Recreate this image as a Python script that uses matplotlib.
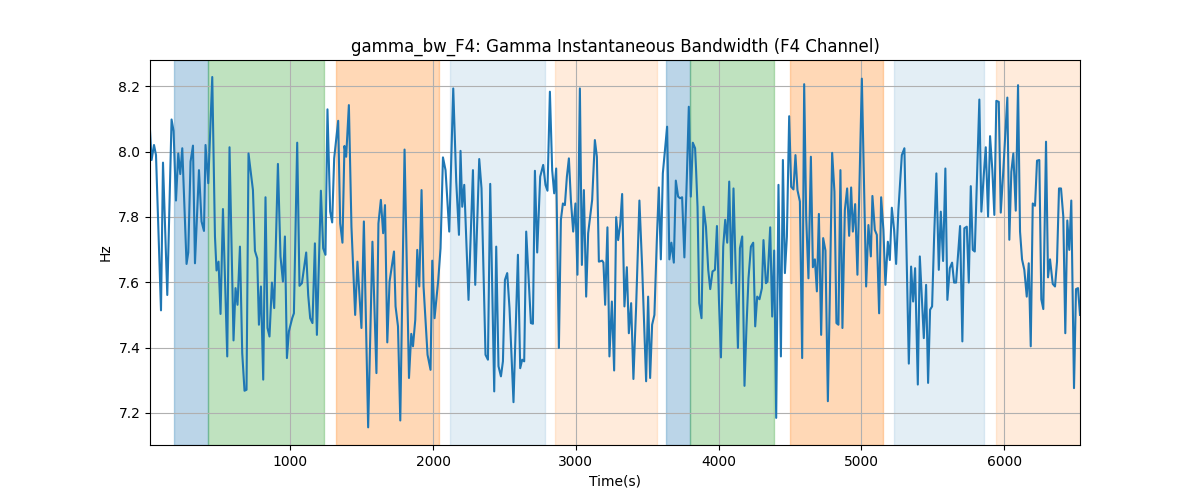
import numpy as np
import matplotlib
matplotlib.use('Agg')
import matplotlib.pyplot as plt

# time stamps (s) and gamma bandwidth (Hz)
time_s = [17, 28, 45, 59, 94, 108, 138, 168, 182, 199, 215, 229, 243, 273, 285, 301, 318, 332, 360, 378,
          395, 406, 425, 453, 472, 483, 497, 511, 528, 558, 574, 602, 616, 630, 647, 663, 679, 693, 707, 738,
          752, 768, 780, 794, 810, 826, 840, 854, 871, 887, 913, 931, 948, 962, 976, 990, 1013, 1025, 1048, 1064,
          1081, 1111, 1125, 1139, 1155, 1172, 1186, 1214, 1230, 1246, 1260, 1279, 1293, 1307, 1335, 1349, 1365, 1379, 1391, 1410,
          1428, 1454, 1470, 1484, 1498, 1515, 1545, 1575, 1603, 1617, 1634, 1650, 1663, 1679, 1695, 1726, 1737, 1754, 1770, 1800,
          1831, 1847, 1859, 1875, 1889, 1903, 1919, 1933, 1961, 1982, 1994, 2010, 2036, 2052, 2069, 2087, 2113, 2141, 2162, 2181,
          2192, 2204, 2218, 2248, 2279, 2295, 2323, 2339, 2367, 2384, 2400, 2428, 2442, 2458, 2475, 2489, 2503, 2519, 2535, 2563,
          2594, 2610, 2624, 2638, 2652, 2668, 2685, 2699, 2713, 2729, 2750, 2759, 2771, 2787, 2801, 2818, 2834, 2848, 2862, 2881,
          2895, 2909, 2923, 2937, 2951, 2965, 2981, 2997, 3011, 3028, 3042, 3056, 3072, 3086, 3114, 3133, 3147, 3161, 3184, 3193,
          3205, 3221, 3235, 3252, 3268, 3282, 3296, 3310, 3324, 3340, 3357, 3371, 3387, 3403, 3422, 3445, 3464, 3483, 3492, 3506,
          3520, 3534, 3550, 3567, 3581, 3595, 3609, 3639, 3655, 3669, 3686, 3700, 3716, 3730, 3744, 3760, 3777, 3791, 3805, 3819,
          3835, 3842, 3852, 3864, 3880, 3894, 3911, 3927, 3941, 3957, 3974, 3988, 4002, 4016, 4032, 4046, 4060, 4074, 4090, 4104,
          4118, 4135, 4149, 4165, 4181, 4195, 4209, 4226, 4242, 4256, 4270, 4286, 4303, 4314, 4331, 4342, 4361, 4375, 4389, 4403,
          4419, 4436, 4450, 4464, 4478, 4494, 4508, 4524, 4538, 4552, 4569, 4585, 4599, 4613, 4629, 4646, 4660, 4674, 4688, 4702,
          4718, 4732, 4748, 4765, 4779, 4795, 4811, 4825, 4839, 4853, 4867, 4884, 4900, 4914, 4928, 4940, 4956, 4972, 5003, 5033,
          5049, 5066, 5077, 5094, 5108, 5124, 5138, 5154, 5168, 5185, 5199, 5213, 5229, 5243, 5259, 5283, 5301, 5332, 5348, 5362,
          5376, 5395, 5409, 5437, 5453, 5467, 5481, 5495, 5509, 5525, 5542, 5556, 5572, 5588, 5602, 5619, 5635, 5649, 5663, 5691,
          5707, 5721, 5738, 5752, 5766, 5780, 5794, 5826, 5840, 5857, 5871, 5887, 5901, 5917, 5931, 5945, 5962, 5976, 5992, 6022,
          6036, 6050, 6064, 6081, 6097, 6111, 6125, 6141, 6158, 6172, 6186, 6200, 6216, 6230, 6246, 6260, 6274, 6293, 6307, 6321,
          6340, 6356, 6370, 6384, 6398, 6414, 6428, 6442, 6456, 6470, 6489, 6503, 6517, 6531]

bandwidth_hz = [8.065, 7.974, 8.020, 7.989, 7.514, 7.966, 7.561, 8.098, 8.063, 7.850, 7.994, 7.931, 8.010, 7.656, 7.691, 7.969, 8.018, 7.658, 7.943, 7.786,
                7.757, 8.020, 7.903, 8.228, 7.740, 7.636, 7.663, 7.503, 7.824, 7.373, 8.013, 7.422, 7.582, 7.531, 7.709, 7.383, 7.268, 7.271, 7.994, 7.882,
                7.696, 7.673, 7.470, 7.587, 7.302, 7.860, 7.460, 7.434, 7.599, 7.521, 7.962, 7.679, 7.602, 7.740, 7.368, 7.450, 7.490, 7.505, 8.027, 7.589,
                7.597, 7.691, 7.561, 7.490, 7.475, 7.719, 7.439, 7.880, 7.704, 7.684, 8.129, 7.816, 7.783, 7.979, 8.094, 7.780, 7.721, 8.017, 7.984, 8.142,
                7.770, 7.500, 7.663, 7.561, 7.460, 7.786, 7.156, 7.724, 7.322, 7.780, 7.852, 7.750, 7.836, 7.416, 7.602, 7.694, 7.526, 7.465, 7.177, 8.006,
                7.307, 7.442, 7.404, 7.485, 7.699, 7.587, 7.882, 7.587, 7.378, 7.332, 7.666, 7.490, 7.607, 7.704, 7.982, 7.943, 7.755, 8.193, 7.908, 7.745,
                8.002, 7.831, 7.898, 7.546, 7.943, 7.592, 7.977, 7.887, 7.378, 7.363, 7.901, 7.266, 7.709, 7.343, 7.312, 7.358, 7.607, 7.628, 7.521, 7.233,
                7.684, 7.337, 7.363, 7.358, 7.755, 7.617, 7.475, 7.473, 7.941, 7.691, 7.923, 7.938, 7.959, 7.898, 7.880, 8.183, 7.943, 7.872, 7.948, 7.399,
                7.791, 7.841, 7.836, 7.923, 7.979, 7.852, 7.755, 7.841, 7.623, 8.193, 7.653, 7.882, 7.556, 7.750, 7.852, 8.035, 7.984, 7.663, 7.666, 7.660,
                7.531, 7.768, 7.373, 7.541, 7.330, 7.799, 7.729, 7.775, 7.870, 7.526, 7.646, 7.444, 7.536, 7.304, 7.526, 7.850, 7.648, 7.409, 7.297, 7.556,
                7.307, 7.470, 7.500, 7.729, 7.890, 7.670, 7.933, 8.076, 7.670, 7.721, 7.660, 7.911, 7.862, 7.857, 7.860, 7.676, 7.918, 8.137, 7.862, 8.027,
                8.010, 7.943, 7.831, 7.536, 7.490, 7.831, 7.770, 7.638, 7.579, 7.633, 7.638, 7.772, 7.546, 7.370, 7.709, 7.791, 7.721, 7.908, 7.597, 7.887,
                7.658, 7.399, 7.704, 7.740, 7.283, 7.465, 7.612, 7.709, 7.721, 7.465, 7.556, 7.548, 7.582, 7.729, 7.597, 7.602, 7.768, 7.495, 7.697, 7.185,
                7.898, 7.373, 7.974, 7.628, 7.740, 8.108, 7.892, 7.884, 7.989, 7.882, 7.847, 7.368, 8.206, 7.801, 7.612, 7.984, 7.646, 7.670, 7.572, 7.809,
                7.439, 7.735, 7.697, 7.236, 7.566, 7.996, 7.877, 7.475, 7.470, 7.943, 7.460, 7.821, 7.887, 7.742, 7.890, 7.755, 7.839, 7.623, 8.223, 7.587,
                7.775, 7.679, 7.864, 7.760, 7.745, 7.505, 7.860, 7.760, 7.592, 7.724, 7.668, 7.828, 7.760, 7.656, 7.821, 7.989, 8.010, 7.351, 7.648, 7.541,
                7.643, 7.287, 7.679, 7.429, 7.592, 7.292, 7.516, 7.526, 7.735, 7.933, 7.638, 7.816, 7.665, 7.948, 7.546, 7.643, 7.660, 7.599, 7.599, 7.772,
                7.419, 7.765, 7.770, 7.599, 7.894, 7.699, 7.694, 8.159, 7.816, 7.928, 8.013, 7.801, 8.047, 7.943, 7.806, 8.155, 8.152, 7.813, 7.928, 8.165,
                7.730, 7.938, 7.994, 7.819, 8.203, 7.755, 7.670, 7.638, 7.556, 7.658, 7.404, 7.841, 7.834, 7.972, 7.974, 7.548, 7.518, 8.030, 7.615, 7.670,
                7.595, 7.587, 7.663, 7.887, 7.887, 7.801, 7.444, 7.789, 7.699, 7.850, 7.276, 7.579, 7.582, 7.500]

# shaded segments: start, end, colour, alpha
seg_start = [187, 420, 1321, 2120, 2855, 3633, 3796, 4501, 5229, 5943]
seg_end = [420, 1237, 2043, 2783, 3567, 3796, 4386, 5150, 5857, 6540]
seg_color = ['tab:blue', 'tab:green', 'tab:orange', 'tab:blue', 'tab:orange',
             'tab:blue', 'tab:green', 'tab:orange', 'tab:blue', 'tab:orange']
seg_alpha = [0.3, 0.3, 0.3, 0.12, 0.15, 0.3, 0.3, 0.3, 0.12, 0.15]

fig, ax = plt.subplots(figsize=(12, 5), dpi=100)

for s, e, c, a in zip(seg_start, seg_end, seg_color, seg_alpha):
    ax.axvspan(s, e, color=c, alpha=a)

ax.plot(time_s, bandwidth_hz, color='tab:blue', linewidth=1.5)

ax.set_xlim(time_s[0], time_s[-1])
ax.set_ylim(7.102, 8.28)
ax.grid(True)
ax.set_title('gamma_bw_F4: Gamma Instantaneous Bandwidth (F4 Channel)')
ax.set_xlabel('Time(s)')
ax.set_ylabel('Hz')

plt.savefig('out.png')
